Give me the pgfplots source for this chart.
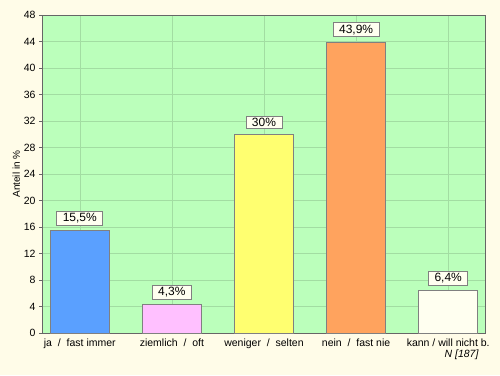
\documentclass[border=0pt]{standalone}
\usepackage{pgfplots}
\pgfplotsset{compat=1.18}
\usepackage{fontspec}
\setmainfont{Liberation Sans}
\definecolor{bgc}{HTML}{FFFCE8}
\definecolor{plotbg}{HTML}{BBFFBB}
\definecolor{gridc}{HTML}{A2DDA2}
\definecolor{c1}{HTML}{5AA0FF}
\definecolor{c2}{HTML}{FFC0FF}
\definecolor{c3}{HTML}{FFFF70}
\definecolor{c4}{HTML}{FFA35E}
\definecolor{c5}{HTML}{FFFFF0}
\definecolor{edgec}{HTML}{808080}
\begin{document}
\begin{tikzpicture}
\fill[bgc] (0pt,0pt) rectangle (500pt,375pt);
\useasboundingbox (0pt,0pt) rectangle (500pt,375pt);
\begin{axis}[
  at={(79.8pt,42pt)}, anchor=origin,
  x=92.1pt, y=6.625pt,
  xmin=-0.41, xmax=4.4, ymin=0, ymax=48,
  ytick={0,4,...,48},
  xtick={0,1,2,3,4},
  xticklabels={{ja \ / \ fast immer},{ziemlich \ / \ oft},{weniger \ / \ selten},{nein \ / \ fast nie},{kann / will nicht b.}},
  x tick label style={font=\fontsize{10.5}{12}\selectfont, yshift=1pt},
  y tick label style={font=\fontsize{10.5}{12}\selectfont},
  /pgf/number format/assume math mode=true,
  ylabel={Anteil in \%},
  ylabel style={font=\fontsize{10}{12}\selectfont, yshift=-3pt},
  grid=major,
  grid style={gridc, line width=0.6pt},
  axis background/.style={fill=plotbg},
  axis line style={draw=gray!80!black, line width=0.8pt},
  tick style={draw=gray!80!black},
  xtick style={draw=none},
  ytick pos=left,
  tick align=outside,
  major tick length=3pt,
  ybar, bar width=59pt, bar shift=0pt,
  point meta=explicit symbolic,
  nodes near coords,
  every node near coord/.append style={draw=edgec, fill=c5, font=\fontsize{12}{13}\selectfont, inner xsep=6pt, inner ysep=2pt, yshift=5pt},
  clip=false,
]
\addplot[fill=c1, draw=edgec, line width=0.8pt] coordinates {(0,15.5) [15,5\%]};
\addplot[fill=c2, draw=edgec, line width=0.8pt] coordinates {(1,4.3) [4,3\%]};
\addplot[fill=c3, draw=edgec, line width=0.8pt] coordinates {(2,30) [30\%]};
\addplot[fill=c4, draw=edgec, line width=0.8pt] coordinates {(3,43.9) [43,9\%]};
\addplot[fill=c5, draw=edgec, line width=0.8pt] coordinates {(4,6.4) [6,4\%]};
\end{axis}
\node[anchor=east, font=\itshape\fontsize{10.5}{12}\selectfont] at (482pt,20pt) {N [187]};
\end{tikzpicture}
\end{document}
